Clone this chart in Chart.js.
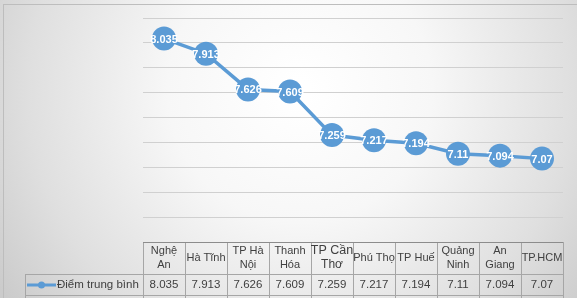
<!DOCTYPE html>
<html>
<head>
<meta charset="utf-8">
<script src="https://cdn.jsdelivr.net/npm/chart.js@4"></script>
<style>
  html, body { margin: 0; padding: 0; background: #fff; }
  #wrap { width: 577px; height: 298px; }
</style>
</head>
<body>
<div id="wrap"><canvas id="scoreChart" width="577" height="298"></canvas></div>
<script>
const categories = [['Nghệ', 'An'], 'Hà Tĩnh', ['TP Hà', 'Nội'], ['Thanh', 'Hóa'], ['TP Cần', 'Thơ'], 'Phú Thọ', 'TP Huế', ['Quảng', 'Ninh'], ['An', 'Giang'], 'TP.HCM'];
const scores = [8.035, 7.913, 7.626, 7.609, 7.259, 7.217, 7.194, 7.11, 7.094, 7.07];
const seriesName = 'Điểm trung bình';
const yMin = 6.4, yMax = 8.2, yStep = 0.2;

const BLUE = '#5B9BD5';
const TEXT = '#404040';
const FONT = '"Liberation Sans", Arial, sans-serif';

// gradient backdrop + outer frame like the Excel chart area
const backdrop = {
  id: 'backdrop',
  beforeDraw(chart) {
    const ctx = chart.ctx;
    const w = chart.width, h = chart.height;
    ctx.save();
    const g = ctx.createRadialGradient(300, 90, 10, 300, 90, 360);
    g.addColorStop(0, '#ffffff');
    g.addColorStop(0.35, '#f7f7f7');
    g.addColorStop(0.75, '#dfdfdf');
    g.addColorStop(1, '#cbcbcb');
    ctx.fillStyle = g;
    ctx.fillRect(0, 0, w, h);
    ctx.strokeStyle = '#bdbdbd';
    ctx.lineWidth = 1;
    ctx.strokeRect(3.5, 4.5, w + 10, h + 10);
    ctx.restore();
  }
};

// white value labels on top of the markers
const pointLabels = {
  id: 'pointLabels',
  afterDatasetsDraw(chart) {
    const ctx = chart.ctx;
    const meta = chart.getDatasetMeta(0);
    ctx.save();
    ctx.font = 'bold 11px ' + FONT;
    ctx.fillStyle = '#ffffff';
    ctx.textAlign = 'center';
    ctx.textBaseline = 'middle';
    meta.data.forEach((pt, i) => {
      ctx.fillText(String(scores[i]), pt.x, pt.y + 1);
    });
    ctx.restore();
  }
};

// data table under the plot, columns follow the x scale
const dataTable = {
  id: 'dataTable',
  afterDraw(chart) {
    const ctx = chart.ctx;
    const xs = chart.scales.x;
    const area = chart.chartArea;
    const top = area.bottom;
    const mid = top + 32;
    const bot = mid + 21;
    const legendLeft = 25;
    const colW = (area.right - area.left) / categories.length;

    ctx.save();
    ctx.strokeStyle = '#a6a6a6';
    ctx.lineWidth = 1;
    ctx.beginPath();
    ctx.moveTo(legendLeft, mid + 0.5); ctx.lineTo(area.right, mid + 0.5);
    ctx.moveTo(legendLeft, bot + 0.5); ctx.lineTo(area.right, bot + 0.5);
    for (let i = 0; i <= categories.length; i++) {
      const x = Math.round(area.left + i * colW) + 0.5;
      ctx.moveTo(x, top); ctx.lineTo(x, chart.height);
    }
    ctx.moveTo(legendLeft + 0.5, mid); ctx.lineTo(legendLeft + 0.5, chart.height);
    ctx.stroke();
    ctx.strokeStyle = '#8c8c8c';
    ctx.beginPath();
    ctx.moveTo(area.left, top + 0.5); ctx.lineTo(area.right, top + 0.5);
    ctx.stroke();

    ctx.fillStyle = TEXT;
    ctx.textAlign = 'center';
    ctx.textBaseline = 'middle';
    categories.forEach((c, i) => {
      const cx = xs.getPixelForValue(i);
      const big = Array.isArray(c) && c[0] === 'TP Cần';
      ctx.font = (big ? '12.5px ' : '11px ') + FONT;
      if (Array.isArray(c)) {
        ctx.fillText(c[0], cx, top + 9);
        ctx.font = (big ? '12px ' : '11px ') + FONT;
        ctx.fillText(c[1], cx, top + 23);
      } else {
        ctx.fillText(c, cx, top + 16);
      }
      ctx.font = '11.5px ' + FONT;
      ctx.fillText(String(scores[i]), cx, mid + 11);
    });

    // legend key inside the first cell
    const ly = mid + 11;
    ctx.strokeStyle = BLUE;
    ctx.lineWidth = 3;
    ctx.beginPath();
    ctx.moveTo(27, ly); ctx.lineTo(56, ly);
    ctx.stroke();
    ctx.fillStyle = BLUE;
    ctx.beginPath();
    ctx.arc(41.5, ly, 3.5, 0, Math.PI * 2);
    ctx.fill();
    ctx.fillStyle = TEXT;
    ctx.textAlign = 'left';
    ctx.font = '11.5px ' + FONT;
    ctx.fillText(seriesName, 57, ly);
    ctx.restore();
  }
};

new Chart(document.getElementById('scoreChart'), {
  type: 'line',
  data: {
    labels: categories,
    datasets: [{
      label: seriesName,
      data: scores,
      borderColor: BLUE,
      backgroundColor: BLUE,
      borderWidth: 3.5,
      pointRadius: 12,
      pointHoverRadius: 12,
      pointBorderWidth: 0,
      pointBackgroundColor: BLUE,
      tension: 0,
      clip: false
    }]
  },
  options: {
    responsive: false,
    animation: false,
    devicePixelRatio: 1,
    layout: { padding: { left: 143, right: 14, top: 18, bottom: 56 } },
    plugins: {
      legend: { display: false },
      tooltip: { enabled: false }
    },
    scales: {
      x: {
        offset: true,
        grid: { display: false, drawTicks: false },
        border: { display: false },
        ticks: { display: false }
      },
      y: {
        min: yMin,
        max: yMax,
        ticks: { display: false, stepSize: yStep },
        grid: { color: '#d0d0d0', lineWidth: 1, drawTicks: false },
        border: { display: false }
      }
    }
  },
  plugins: [backdrop, pointLabels, dataTable]
});
</script>
</body>
</html>
